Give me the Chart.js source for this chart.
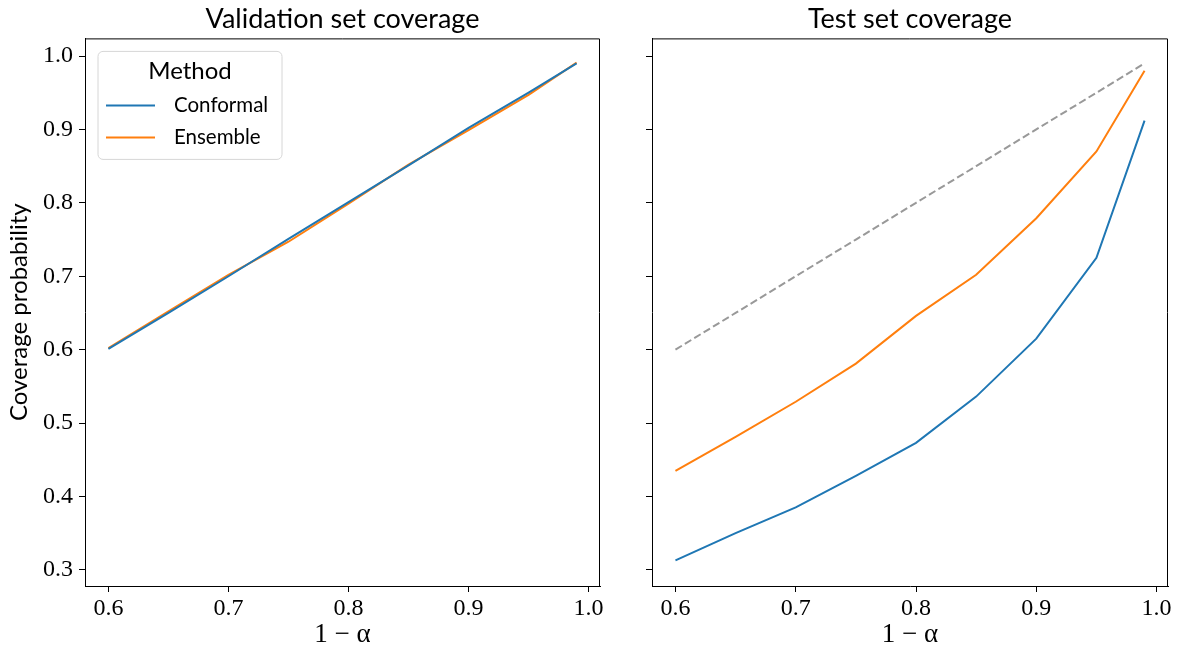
<!DOCTYPE html>
<html>
<head>
<meta charset="utf-8">
<script src="https://cdn.jsdelivr.net/npm/chart.js@4.4.1/dist/chart.umd.min.js"></script>
<style>
  html, body { margin: 0; padding: 0; background: #fff; }
  #wrap { position: relative; width: 1178px; height: 653px; }
  .box { position: absolute; top: 0; height: 653px; }
  #leftBox { left: 0; width: 612px; }
  #rightBox { left: 620px; width: 558px; }
</style>
</head>
<body>
<div id="wrap">
  <div class="box" id="leftBox"><canvas id="valChart"></canvas></div>
  <div class="box" id="rightBox"><canvas id="testChart"></canvas></div>
</div>
<script>
// nominal coverage levels (1 - alpha)
const levels = [0.6, 0.65, 0.7, 0.75, 0.8, 0.85, 0.9, 0.95, 0.99];

// validation set coverage
const valConformal = [0.601, 0.650, 0.700, 0.751, 0.801, 0.851, 0.902, 0.950, 0.990];
const valEnsemble  = [0.602, 0.652, 0.702, 0.747, 0.799, 0.852, 0.899, 0.947, 0.991];

// test set coverage
const testConformal = [0.313, 0.350, 0.385, 0.428, 0.473, 0.536, 0.615, 0.725, 0.912];
const testEnsemble  = [0.435, 0.481, 0.529, 0.581, 0.646, 0.702, 0.779, 0.870, 0.980];
const idealLine     = [0.6, 0.65, 0.7, 0.75, 0.8, 0.85, 0.9, 0.95, 0.99];

const xTicks = [0.6, 0.7, 0.8, 0.9, 1.0];
const yTicks = [0.3, 0.4, 0.5, 0.6, 0.7, 0.8, 0.9, 1.0];

const BLUE = '#1f77b4';
const ORANGE = '#ff7f0e';
const SANS = 'Lato, "DejaVu Sans", sans-serif';
const SERIF = '"Liberation Serif", "DejaVu Serif", serif';

function toPoints(ys) {
    return levels.map((x, i) => ({ x: x, y: ys[i] }));
}

function lineSet(label, ys, color, dash) {
    return {
        label: label,
        data: toPoints(ys),
        borderColor: color,
        backgroundColor: color,
        borderWidth: 2,
        borderDash: dash || [],
        pointRadius: 0,
        tension: 0,
        fill: false
    };
}

// top and right spines (left/bottom come from the axes)
const frame = {
    id: 'frame',
    afterDraw(chart) {
        const a = chart.chartArea;
        const ctx = chart.ctx;
        ctx.save();
        ctx.strokeStyle = '#000';
        ctx.lineWidth = 1;
        ctx.beginPath();
        ctx.moveTo(a.left, a.top + 0.5);
        ctx.lineTo(a.right - 0.5, a.top + 0.5);
        ctx.lineTo(a.right - 0.5, a.bottom);
        ctx.stroke();
        ctx.restore();
    }
};

// matplotlib style legend box inside the plot, top-left
const boxLegend = {
    id: 'boxLegend',
    afterDatasetsDraw(chart) {
        const a = chart.chartArea;
        const ctx = chart.ctx;
        const x = a.left + 13, y = a.top + 13, w = 184, h = 108, r = 5;
        ctx.save();
        ctx.beginPath();
        ctx.roundRect(x, y, w, h, r);
        ctx.fillStyle = 'rgba(255,255,255,0.8)';
        ctx.fill();
        ctx.strokeStyle = '#d6d6d6';
        ctx.lineWidth = 1;
        ctx.stroke();

        ctx.fillStyle = '#000';
        ctx.textBaseline = 'middle';
        ctx.textAlign = 'center';
        ctx.font = '24px ' + SANS;
        ctx.fillText('Method', x + w / 2, y + 20);

        ctx.textAlign = 'left';
        ctx.font = '20.5px ' + SANS;
        chart.data.datasets.forEach((ds, i) => {
            const ly = y + 54 + i * 32;
            ctx.strokeStyle = ds.borderColor;
            ctx.lineWidth = 2;
            ctx.beginPath();
            ctx.moveTo(x + 8, ly);
            ctx.lineTo(x + 57, ly);
            ctx.stroke();
            ctx.fillText(ds.label, x + 76, ly);
        });
        ctx.restore();
    }
};

function makeScales(showYLabels, yWidth) {
    return {
        x: {
            type: 'linear',
            min: 0.5805,
            max: 1.0095,
            afterBuildTicks: s => { s.ticks = xTicks.map(v => ({ value: v })); },
            afterFit: s => { s.height = 67; },
            grid: { drawOnChartArea: false, drawTicks: true, tickLength: 6, color: '#000' },
            border: { color: '#000' },
            ticks: {
                color: '#000',
                padding: 2,
                maxRotation: 0,
                font: { family: SERIF, size: 24 },
                callback: v => v.toFixed(1)
            },
            title: {
                display: true,
                text: '1 − α',
                color: '#000',
                font: { family: SERIF, size: 27 },
                padding: { top: 0, bottom: 2 }
            }
        },
        y: {
            type: 'linear',
            min: 0.278,
            max: 1.024,
            afterBuildTicks: s => { s.ticks = yTicks.map(v => ({ value: v })); },
            afterFit: s => { s.width = yWidth; },
            grid: { drawOnChartArea: false, drawTicks: true, tickLength: 6, color: '#000' },
            border: { color: '#000' },
            ticks: {
                color: '#000',
                padding: 6,
                font: { family: SERIF, size: 24 },
                callback: v => showYLabels ? v.toFixed(1) : ''
            },
            title: {
                display: showYLabels,
                text: 'Coverage probability',
                color: '#000',
                font: { family: SANS, size: 24 },
                padding: { top: 5, bottom: 0 }
            }
        }
    };
}

function makeTitle(text) {
    return {
        display: true,
        text: text,
        color: '#000',
        fullSize: false,
        font: { family: SANS, size: 27, weight: 'normal' },
        padding: { top: 3, bottom: 3 }
    };
}

new Chart(document.getElementById('valChart'), {
    type: 'line',
    data: {
        datasets: [
            lineSet('Conformal', valConformal, BLUE),
            lineSet('Ensemble', valEnsemble, ORANGE)
        ]
    },
    options: {
        responsive: true,
        maintainAspectRatio: false,
        animation: false,
        layout: { padding: { right: 12 } },
        scales: makeScales(true, 85),
        plugins: {
            legend: { display: false },
            tooltip: { enabled: false },
            title: makeTitle('Validation set coverage')
        }
    },
    plugins: [frame, boxLegend]
});

new Chart(document.getElementById('testChart'), {
    type: 'line',
    data: {
        datasets: [
            lineSet('Conformal', testConformal, BLUE),
            lineSet('Ensemble', testEnsemble, ORANGE),
            lineSet('Ideal', idealLine, '#999999', [7.5, 3.5])
        ]
    },
    options: {
        responsive: true,
        maintainAspectRatio: false,
        animation: false,
        layout: { padding: { right: 10 } },
        scales: makeScales(false, 32),
        plugins: {
            legend: { display: false },
            tooltip: { enabled: false },
            title: makeTitle('Test set coverage')
        }
    },
    plugins: [frame]
});
</script>
</body>
</html>
